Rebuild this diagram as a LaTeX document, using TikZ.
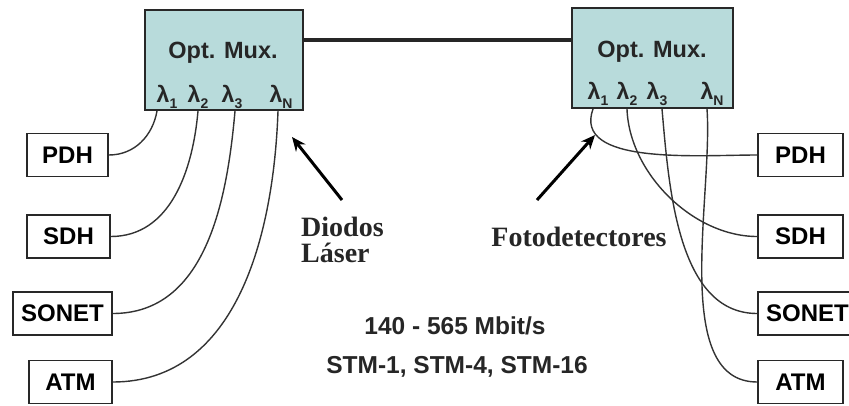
\documentclass[tikz,border=0pt]{standalone}
\usepackage{fontspec}
\setmainfont{Liberation Sans}
\newfontfamily\serifb{Liberation Serif}
\usetikzlibrary{arrows.meta}
\definecolor{muxfill}{RGB}{184,219,219}
\definecolor{edge}{RGB}{40,40,40}
\newcommand\lam[1]{λ\raisebox{-0.28em}{\fontsize{14}{14}\selectfont #1}}
\tikzset{
  mux/.style={draw=edge, line width=1.8pt, fill=muxfill, minimum height=100pt, inner sep=0pt},
  sbox/.style={draw=edge, line width=1.6pt, fill=white, minimum height=43pt, inner sep=0pt,
    font=\fontsize{24}{26}\selectfont\bfseries},
  lamtxt/.style={font=\fontsize{23}{23}\selectfont\bfseries, inner sep=0pt, text=black!85},
  fiber/.style={draw=black!80, line width=1.4pt},
  ptr/.style={draw=black, line width=3pt, -{Stealth[length=14pt,width=12pt]}},
  lbl/.style={font=\fontsize{24.5}{26}\selectfont\bfseries, inner sep=0pt, text=black!85},
  slbl/.style={font=\fontsize{28}{28}\serifb\bfseries, inner sep=0pt, text=black!85}
}
\begin{document}
\begin{tikzpicture}[x=1pt,y=-1pt]
\useasboundingbox (0,0) rectangle (849,405);
% multiplexers
\node[mux, minimum width=158pt] (muxL) at (224,60) {};
\node[mux, minimum width=161pt] (muxR) at (652.5,58) {};
\node[lbl, font=\fontsize{23.5}{24}\selectfont\bfseries] (tL) at (223,53) {Opt. Mux.};
\node[lbl, font=\fontsize{23.5}{24}\selectfont\bfseries] (tR) at (652,52) {Opt. Mux.};
% link
\coordinate (linkL) at (303,40);
\coordinate (linkR) at (572,40);
\draw[line width=3.5pt, draw=black!85] (linkL) -- (linkR);
% lambdas left
\node[lamtxt] (lL1) at (167,97) {\lam{1}};
\node[lamtxt] (lL2) at (198,97) {\lam{2}};
\node[lamtxt] (lL3) at (232,97) {\lam{3}};
\node[lamtxt] (lLN) at (281,97) {\lam{N}};
% lambdas right
\node[lamtxt] (lR1) at (598,94) {\lam{1}};
\node[lamtxt] (lR2) at (627,94) {\lam{2}};
\node[lamtxt] (lR3) at (657,94) {\lam{3}};
\node[lamtxt] (lRN) at (712,94) {\lam{N}};
% ports
\coordinate (a1) at (157,111);
\coordinate (a2) at (198,111);
\coordinate (a3) at (235,111);
\coordinate (aN) at (278,111);
\coordinate (b1) at (593,109);
\coordinate (b2) at (627,109);
\coordinate (b3) at (662,109);
\coordinate (bN) at (707,109);
% left boxes
\node[sbox, minimum width=81pt] (pdhL) at (67.5,155) {PDH};
\node[sbox, minimum width=83pt] (sdhL) at (68.5,236.5) {SDH};
\node[sbox, minimum width=99pt] (sonL) at (62.5,313.5) {SONET};
\node[sbox, minimum width=83pt] (atmL) at (70.5,382) {ATM};
% right boxes
\node[sbox, minimum width=85pt] (pdhR) at (800.5,155) {PDH};
\node[sbox, minimum width=85pt] (sdhR) at (800.5,236.5) {SDH};
\node[sbox, minimum width=99pt] (sonR) at (807.5,313.5) {SONET};
\node[sbox, minimum width=85pt] (atmR) at (800.5,382) {ATM};
% left fibres
\draw[fiber] (pdhL.east) to[out=0,in=-100,looseness=1.0] (a1);
\draw[fiber] (sdhL.east) to[out=0,in=-95,looseness=1.0] (a2);
\draw[fiber] (sonL.east) to[out=0,in=-95,looseness=1.0] (a3);
\draw[fiber] (atmL.east) to[out=0,in=-92,looseness=1.0] (aN);
% right fibres
\draw[fiber] (b1) to[out=-110,in=180,looseness=0.9] (pdhR.west);
\draw[fiber] (b2) to[out=-88,in=180,looseness=0.9] (sdhR.west);
\draw[fiber] (b3) to[out=-85,in=180,looseness=0.9] (sonR.west);
\draw[fiber] (bN) to[out=-86,in=180,looseness=0.8] (atmR.west);
% pointer arrows
\coordinate (pL0) at (342,200);
\coordinate (pL1) at (292,137);
\coordinate (pR0) at (537,200);
\coordinate (pR1) at (595,135);
\draw[ptr] (pL0) -- (pL1);
\draw[ptr] (pR0) -- (pR1);
% labels
\node[slbl, anchor=base west] (diod) at (301,236) {Diodos};
\node[slbl, anchor=base west] (laser) at (301,262) {Láser};
\node[slbl] (foto) at (579,237) {Fotodetectores};
\node[lbl] (rate) at (455,326) {140 - 565 Mbit/s};
\node[lbl] (stm) at (457,367) {STM-1, STM-4, STM-16};
\end{tikzpicture}
\end{document}
